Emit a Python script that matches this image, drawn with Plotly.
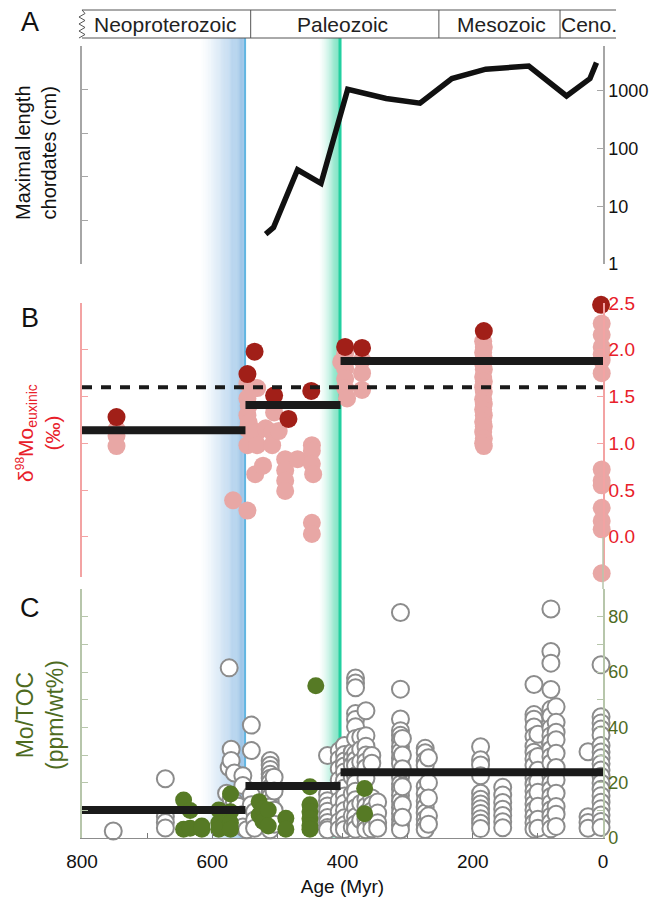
import plotly.graph_objects as go

# ---------------- data ----------------
era_names = ["Neoproterozoic", "Paleozoic", "Mesozoic", "Ceno."]
era_start = [800, 541, 252, 66]
era_end = [541, 252, 66, -20]
era_label_age = [673, 400, 156, 22]

# Panel A: maximal length of chordates (cm)
size_age = [518, 506, 469, 433, 392, 333, 281, 232, 180, 114, 56, 20, 10]
size_cm = [3.3, 4.3, 43, 25, 1070, 740, 615, 1640, 2390, 2700, 820, 1640, 3100]

# Panel B: delta98Mo euxinic
mo_pink_age = [747, 747, 747, 568, 546, 546, 546, 546, 546, 546, 544, 544, 534,
               531, 531, 531, 522, 518, 508, 508, 505, 498, 488, 488, 488, 488,
               469, 447, 447, 447, 447, 447, 445, 402, 396, 396, 396, 396, 393,
               370, 370, 370,
               184, 183, 184, 183, 184, 183, 184, 183, 184, 183, 184, 183, 184,
               183, 184, 183, 184, 183, 184, 183,
               2, 2, 2, 2, 2, 2, 2, 2, 2, 2, 2, 2, 2]
mo_pink_val = [1.15, 1.08, 0.97, 0.39, 1.64, 1.48, 1.30, 1.15, 0.98, 0.28, 1.40, 1.22, 0.67,
               1.59, 1.12, 0.98, 0.76, 1.16, 1.12, 0.98, 1.33, 1.13, 0.83, 0.71, 0.60, 0.49,
               0.83, 0.98, 0.92, 0.78, 0.15, 0.03, 0.67, 1.87, 1.96, 1.80, 1.69, 1.59, 1.48,
               1.89, 1.75, 1.57,
               2.09, 2.03, 1.97, 1.90, 1.85, 1.79, 1.71, 1.66, 1.60, 1.55, 1.47, 1.42, 1.36,
               1.30, 1.23, 1.18, 1.12, 1.05, 1.00, 0.97,
               2.28, 2.16, 2.03, 1.95, 1.89, 1.75, 0.72, 0.60, 0.55, 0.31, 0.17, 0.08, -0.39]
mo_red_age = [747, 546, 535, 505, 483, 448, 396, 370, 183, 3]
mo_red_val = [1.28, 1.74, 1.98, 1.51, 1.26, 1.56, 2.03, 2.02, 2.20, 2.48]

bin_start = [800, 549, 403]
bin_end = [549, 403, 0]
mo_mean_val = [1.14, 1.41, 1.88]
mo_modern = 1.6

# Panel C: Mo/TOC (ppm/wt%)
toc_open_col_age = [752, 672, 578, 574, 571, 566, 560, 553, 547, 540, 535, 511, 505,
                    423, 405, 397, 385, 380, 372, 364, 355, 346, 311, 308, 273, 268,
                    188, 154, 106, 100, 80, 72, 23, 3]
toc_open_col_vals = [
    [2.5],
    [21.4, 7.8, 5.6, 3.6],
    [16.2],
    [61.5, 25.5],
    [32.1, 28.0, 14.0],
    [23.5, 13.0, 9.0],
    [11.5, 6.0],
    [22.5, 19.0, 8.5, 4.0],
    [3.0],
    [40.8, 31.6, 15.5, 12.0],
    [9.5, 6.5, 3.5],
    [28.0, 26.3, 24.8, 23.0, 21.6, 20.0, 18.2, 16.5, 14.8, 12.9, 11.2, 9.4, 7.6, 5.9, 4.1, 3.0],
    [22.0, 17.0, 10.0, 5.0],
    [29.8, 15.8, 13.5, 11.6, 9.7, 7.4, 5.6, 3.8, 3.0],
    [31.5, 28.5, 25.0, 21.0, 17.5, 13.5, 9.5, 6.0, 3.2],
    [33.4, 30.2, 27.8, 26.0, 23.9, 20.8, 18.1, 15.2, 12.6, 9.9, 7.3, 4.8, 3.1],
    [31.0, 28.7, 26.4, 22.0, 16.0, 12.0, 8.0, 4.0],
    [57.8, 56.0, 54.3, 45.0, 42.8, 40.2, 36.0, 30.5, 28.2, 26.1, 22.5, 19.8, 16.9, 13.8, 10.9, 7.7, 5.1, 3.2],
    [36.5, 32.0, 27.5, 12.5, 6.5],
    [46.0, 37.0, 33.2, 30.0, 27.6, 25.4, 21.5, 14.0, 11.5, 9.0, 6.8, 4.4, 3.0],
    [29.8, 27.0, 14.5, 12.0, 9.8, 7.5, 5.2, 3.3],
    [13.0, 9.0, 5.5, 3.5],
    [81.5, 53.8, 43.0, 38.8, 37.1, 35.4, 33.0, 31.2, 28.8, 26.9, 22.0, 19.5, 17.6, 15.4, 13.3, 11.0, 8.9, 6.7, 4.6, 3.0],
    [36.0, 30.0, 25.0, 18.5, 12.0, 7.5],
    [32.4, 30.8, 28.0, 26.2, 18.6, 16.0, 13.4, 11.1, 9.0, 6.9, 4.8, 3.1],
    [29.0, 20.0, 14.5, 8.0, 5.0],
    [33.0, 28.3, 26.4, 22.5, 16.2, 14.0, 12.3, 10.6, 8.9, 7.0, 5.3, 3.4],
    [18.3, 15.5, 12.8, 10.4, 8.1, 5.9, 3.7],
    [55.5, 44.6, 42.9, 40.1, 36.7, 33.2, 31.0, 28.6, 26.2, 21.8, 19.4, 17.0, 14.8, 12.3, 10.1, 7.8, 5.5, 3.2],
    [37.5, 29.5, 24.5, 20.5, 16.5, 11.5, 6.8, 3.5],
    [82.8, 67.4, 63.2, 53.7, 46.5, 44.0, 39.7, 37.0, 34.6, 32.0, 29.4, 27.1, 22.3, 19.9, 17.5, 15.0, 12.6, 10.2, 7.9, 5.6, 3.3],
    [47.4, 41.8, 38.2, 35.5, 30.6, 25.5, 21.0, 16.2, 11.4, 8.6, 4.2],
    [31.2, 7.7, 5.6, 3.5],
    [62.6, 43.8, 41.6, 39.4, 37.2, 33.4, 31.1, 29.0, 26.8, 24.6, 22.3, 19.9, 17.6, 15.3, 12.9, 10.6, 8.3, 6.0, 3.8],
]
toc_green_age = [644, 644, 634, 634, 616, 616, 590, 590, 590, 572, 572, 572, 572,
                 528, 528, 522, 522, 514, 514, 487, 487, 450, 450, 450, 450, 450, 450,
                 441, 366, 366]
toc_green_val = [13.7, 3.2, 9.9, 3.5, 4.3, 3.2, 10.1, 5.4, 3.2, 15.9, 9.5, 5.5, 3.2,
                 13.1, 8.3, 10.5, 6.0, 10.1, 4.3, 7.1, 3.2, 18.5, 12.0, 9.5, 7.0, 4.5, 3.2,
                 55.0, 17.9, 8.8]
toc_mean_val = [10.1, 18.8, 23.8]

# shaded transitions (age from, age to)
blue_band = [618, 549]
green_band = [436, 403]

# ---------------- layout geometry ----------------
W, H = 669, 901
OFF = 8  # default page body margin
# plot area in window pixels: x 82..603, y 46..838
ml = 82 - OFF
mr = W - (603 - OFF)
mt = 46 - OFF
mb = H - (838 - OFF)
plot_w = 603 - 82
plot_h = 838 - 46
FONT = "Liberation Sans, Arial, sans-serif"


def py(pix):
    return (838 - pix) / plot_h


def px(pix):
    return (pix - 82) / plot_w


def age_paper(a):
    return (800 - a) / 800.0


RED = "#e8202a"
RED_LINE = "#f3a3a3"
GREEN = "#4e6b1f"
GREEN_LINE = "#b7c6ab"
GRAY_LINE = "#a6a6a6"

fig = go.Figure()

# dummy trace for panel A left tick axis
fig.add_trace(go.Scatter(x=[None], y=[None], xaxis="x", yaxis="y4", showlegend=False, hoverinfo="skip"))

# Panel A line
fig.add_trace(go.Scatter(x=size_age, y=size_cm, mode="lines", xaxis="x", yaxis="y",
                         line=dict(color="#111111", width=5.5), showlegend=False, cliponaxis=False))

# Panel B points
fig.add_trace(go.Scatter(x=mo_pink_age, y=mo_pink_val, mode="markers", xaxis="x", yaxis="y2",
                         marker=dict(size=18, color="#e8a7a5", line=dict(width=0)),
                         showlegend=False, cliponaxis=False))
fig.add_trace(go.Scatter(x=mo_red_age, y=mo_red_val, mode="markers", xaxis="x", yaxis="y2",
                         marker=dict(size=18, color="#a11f18", line=dict(width=0)),
                         showlegend=False, cliponaxis=False))

# Panel C points
open_x, open_y = [], []
for a, vals in zip(toc_open_col_age, toc_open_col_vals):
    for v in vals:
        open_x.append(a)
        open_y.append(v)
fig.add_trace(go.Scatter(x=open_x, y=open_y, mode="markers", xaxis="x", yaxis="y3",
                         marker=dict(size=17, color="white", line=dict(width=2, color="#8c8c8c")),
                         showlegend=False, cliponaxis=False))
fig.add_trace(go.Scatter(x=toc_green_age, y=toc_green_val, mode="markers", xaxis="x", yaxis="y3",
                         marker=dict(size=17, color="#567a25", line=dict(width=0)),
                         showlegend=False, cliponaxis=False))


def bar_xy(vals):
    xs, ys = [], []
    for s, e, v in zip(bin_start, bin_end, vals):
        xs += [s, e, None]
        ys += [v, v, None]
    return xs, ys


bx, by = bar_xy(mo_mean_val)
fig.add_trace(go.Scatter(x=bx, y=by, mode="lines", xaxis="x", yaxis="y2",
                         line=dict(color="#1a1a1a", width=8), showlegend=False))
fig.add_trace(go.Scatter(x=[800, 0], y=[mo_modern, mo_modern], mode="lines", xaxis="x", yaxis="y2",
                         line=dict(color="#1a1a1a", width=4, dash="10px,9px"), showlegend=False))
bx, by = bar_xy(toc_mean_val)
fig.add_trace(go.Scatter(x=bx, y=by, mode="lines", xaxis="x", yaxis="y3",
                         line=dict(color="#1a1a1a", width=8), showlegend=False))

# ---------------- shapes ----------------
shapes = []
band_top = py(38)


def gradient(a0, a1, rgb, n, max_op, power):
    step = (a0 - a1) / n
    for i in range(n):
        t = (i + 1) / n
        op = max_op * t ** power
        shapes.append(dict(type="rect", xref="x", yref="paper",
                           x0=a0 - i * step, x1=a0 - (i + 1) * step - 0.01,
                           y0=0, y1=band_top, layer="below", line=dict(width=0),
                           fillcolor="rgba(%d,%d,%d,%.3f)" % (rgb[0], rgb[1], rgb[2], op)))


gradient(blue_band[0], blue_band[1], (115, 172, 222), 40, 0.76, 1.3)
gradient(green_band[0], green_band[1], (50, 210, 160), 20, 0.8, 1.5)
shapes.append(dict(type="line", xref="x", yref="paper", x0=blue_band[1] + 0.6, x1=blue_band[1] + 0.6,
                   y0=0, y1=band_top, layer="below", line=dict(color="#62b6e2", width=2)))
shapes.append(dict(type="line", xref="x", yref="paper", x0=green_band[1] + 0.8, x1=green_band[1] + 0.8,
                   y0=0, y1=band_top, layer="below", line=dict(color="#22d0a0", width=3)))
# right axis of panel C continues up a little
shapes.append(dict(type="line", xref="paper", yref="paper", x0=1, x1=1, y0=py(589), y1=py(537),
                   line=dict(color=GREEN_LINE, width=1.5)))

# era bar
ey0, ey1 = py(38), py(10)
xr = age_paper(era_end[-1])
shapes.append(dict(type="line", xref="paper", yref="paper", x0=0, x1=xr, y0=ey1, y1=ey1,
                   line=dict(color="#555555", width=1)))
shapes.append(dict(type="line", xref="paper", yref="paper", x0=0, x1=xr, y0=ey0, y1=ey0,
                   line=dict(color="#555555", width=1)))
for b in era_end[:-1]:
    shapes.append(dict(type="line", xref="paper", yref="paper", x0=age_paper(b), x1=age_paper(b),
                       y0=ey0, y1=ey1, line=dict(color="#555555", width=1)))
# squiggle break at the left end
dx = 3.0 / plot_w
ys = [ey1 + i * (ey0 - ey1) / 8 for i in range(9)]
path = "M %.4f %.4f" % (0, ys[0])
for i, yv in enumerate(ys[1:]):
    xo = dx if i % 2 == 0 else -dx
    path += " L %.4f %.4f" % (xo, yv)
shapes.append(dict(type="path", xref="paper", yref="paper", path=path,
                   line=dict(color="#555555", width=1)))

# ---------------- annotations ----------------
ann = []
for name, a in zip(era_names, era_label_age):
    ann.append(dict(text=name, x=a, xref="x", y=py(24), yref="paper", showarrow=False,
                    font=dict(family=FONT, size=21, color="#222222"), xanchor="center", yanchor="middle"))
for lab, yy in [("A", 22), ("B", 318), ("C", 608)]:
    ann.append(dict(text=lab, x=px(30), y=py(yy), xref="paper", yref="paper", showarrow=False,
                    font=dict(family=FONT, size=27, color="#111111"), xanchor="center", yanchor="middle"))
ann.append(dict(text="Maximal length<br>chordates (cm)", x=px(36), y=py(153), xref="paper", yref="paper",
                showarrow=False, textangle=-90, font=dict(family=FONT, size=20, color="#111111"),
                xanchor="center", yanchor="middle"))
ann.append(dict(text="δ<sup><span style='font-size:12px'>98</span></sup>Mo"
                     "<sub><span style='font-size:14px'>euxinic</span></sub><br>(‰)",
                x=px(38), y=py(433), xref="paper",
                yref="paper", showarrow=False, textangle=-90, font=dict(family=FONT, size=21, color=RED),
                xanchor="center", yanchor="middle"))
ann.append(dict(text="Mo/TOC<br>(ppm/wt%)", x=px(40), y=py(715), xref="paper", yref="paper",
                showarrow=False, textangle=-90, font=dict(family=FONT, size=23, color=GREEN),
                xanchor="center", yanchor="middle"))

tickfont = dict(family=FONT, size=18, color="#111111")

fig.update_layout(
    width=W, height=H,
    margin=dict(l=ml, r=mr, t=mt, b=mb),
    paper_bgcolor="white", plot_bgcolor="rgba(0,0,0,0)",
    showlegend=False,
    font=dict(family=FONT),
    shapes=shapes, annotations=ann,
    xaxis=dict(range=[800, 0], anchor="y3", showgrid=False, zeroline=False,
               tickvals=[0, 200, 400, 600, 800],
               ticks="inside", ticklen=5, tickcolor="#777777", ticklabelstandoff=6,
               minor=dict(dtick=100, ticks="inside", ticklen=5, tickcolor="#777777", showgrid=False),
               showline=True, linecolor="#8c8c8c", linewidth=1,
               tickfont=dict(family=FONT, size=19, color="#111111"),
               title=dict(text="Age (Myr)", font=dict(family=FONT, size=19, color="#111111"), standoff=8)),
    yaxis=dict(domain=[py(264), py(46)], type="log", range=[0, 3.78], side="right", anchor="x",
               tickvals=[1, 10, 100, 1000], ticktext=["1", "10", "100", "1000"],
               ticks="inside", ticklen=6, tickcolor=GRAY_LINE, showgrid=False, zeroline=False,
               showline=True, linecolor=GRAY_LINE, linewidth=1.5, tickfont=tickfont),
    yaxis4=dict(overlaying="y", side="left", anchor="x", range=[0, 5], tickvals=[0, 1, 2, 3, 4, 5],
                ticks="inside", ticklen=6, tickcolor=GRAY_LINE, showticklabels=False, showgrid=False,
                zeroline=False, showline=True, linecolor=GRAY_LINE, linewidth=1.5),
    yaxis2=dict(domain=[py(577), py(303)], range=[-0.43, 2.5], side="right", anchor="x",
                tickvals=[0, 0.5, 1.0, 1.5, 2.0, 2.5], ticktext=["0.0", "0.5", "1.0", "1.5", "2.0", "2.5"],
                ticks="inside", ticklen=6, tickcolor=RED_LINE, showgrid=False, zeroline=False,
                showline=True, linecolor=RED_LINE, linewidth=1.5, mirror="ticks",
                tickfont=dict(family=FONT, size=19, color=RED)),
    yaxis3=dict(domain=[0, py(589)], range=[0, 90], side="right", anchor="x",
                tickvals=[0, 20, 40, 60, 80],
                minor=dict(dtick=10, ticks="inside", ticklen=6, tickcolor=GREEN_LINE, showgrid=False),
                ticks="inside", ticklen=6, tickcolor=GREEN_LINE, showgrid=False, zeroline=False,
                showline=True, linecolor=GREEN_LINE, linewidth=1.5, mirror="ticks",
                tickfont=dict(family=FONT, size=18, color=GREEN)),
)

fig.write_html("out.html")
